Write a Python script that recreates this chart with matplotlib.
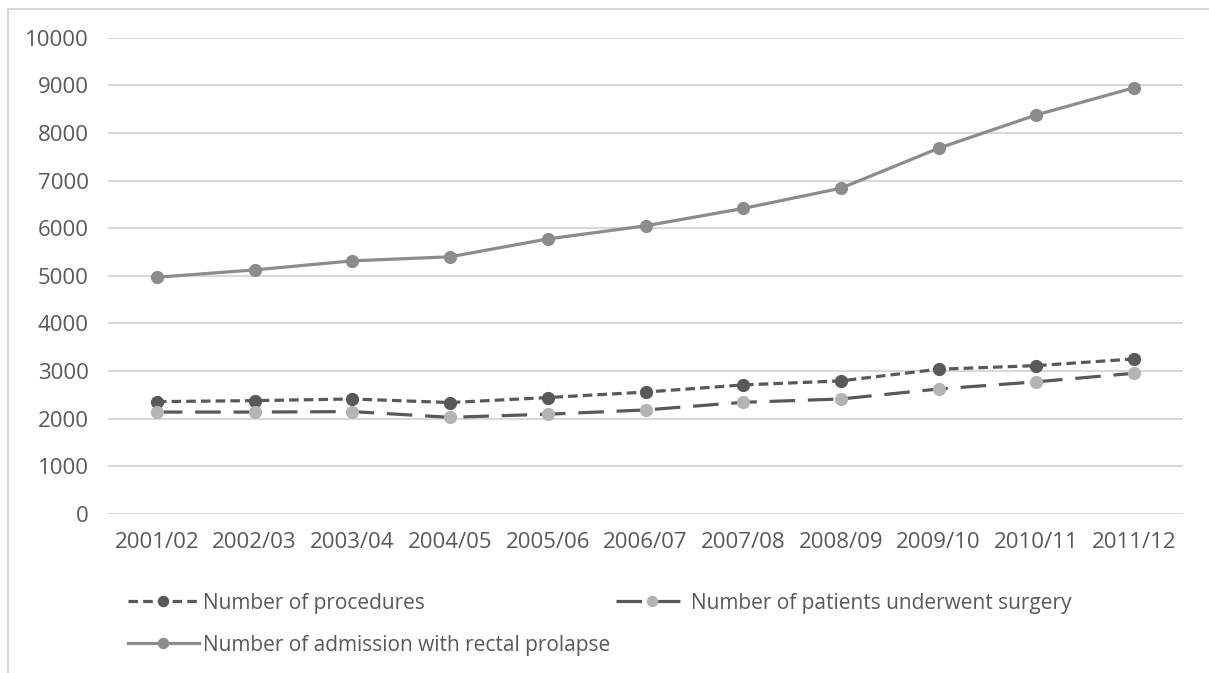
import matplotlib
matplotlib.use("Agg")
import matplotlib.pyplot as plt
from matplotlib.patches import Rectangle

years = ["2001/02", "2002/03", "2003/04", "2004/05", "2005/06", "2006/07",
         "2007/08", "2008/09", "2009/10", "2010/11", "2011/12"]
procedures = [2360, 2380, 2415, 2340, 2445, 2560, 2710, 2795, 3040, 3115, 3255]
patients = [2140, 2140, 2150, 2030, 2095, 2185, 2345, 2415, 2625, 2775, 2955]
admissions = [4970, 5125, 5315, 5400, 5775, 6050, 6415, 6840, 7680, 8380, 8950]
y_ticks = list(range(0, 10001, 1000))

plt.rcParams['font.family'] = ['Open Sans', 'DejaVu Sans']
text_col = "#595959"

fig = plt.figure(figsize=(12.09, 6.73), dpi=100)
ax = fig.add_axes([108 / 1209, 1 - 514 / 673, (1183 - 108) / 1209, (514 - 37.7) / 673])

x = range(len(years))
l_proc, = ax.plot(x, procedures, color="#595959", lw=2.3, dashes=(3, 1.6),
                  marker="o", ms=8.5, mfc="#595959", mec="#595959",
                  label="Number of procedures")
l_pat, = ax.plot(x, patients, color="#595959", lw=2.3, dashes=(8, 4),
                 marker="o", ms=8.5, mfc="#b4b4b4", mec="#b4b4b4",
                 label="Number of patients underwent surgery")
l_adm, = ax.plot(x, admissions, color="#8c8c8c", lw=2.3,
                 marker="o", ms=8.5, mfc="#8c8c8c", mec="#8c8c8c",
                 label="Number of admission with rectal prolapse")

ax.set_xlim(-0.5, len(years) - 0.5)
ax.set_ylim(0, 10000)
ax.set_yticks(y_ticks)
ax.set_xticks(list(x))
ax.set_xticklabels(years)
ax.grid(axis="y", color="#d9d9d9", lw=1.5)
ax.set_axisbelow(True)
for s in ax.spines.values():
    s.set_visible(False)
ax.tick_params(length=0, labelsize=16, labelcolor=text_col)
ax.tick_params(axis="y", pad=14)
ax.tick_params(axis="x", pad=13)

# rows: procedures | patients, then admissions below
leg = fig.legend([l_proc, l_adm, l_pat],
                 [l_proc.get_label(), l_adm.get_label(), l_pat.get_label()],
                 ncol=2, loc="upper left", bbox_to_anchor=(109 / 1209, 1 - 574 / 673),
                 frameon=False, fontsize=15, handlelength=3.4, handletextpad=0.2,
                 columnspacing=0.3, labelspacing=1.0, labelcolor=text_col,
                 markerscale=0.85)

fig.patches.append(Rectangle((8 / 1209, -0.1), 1.2, 1.1 - 9 / 673,
                             transform=fig.transFigure, fill=False,
                             edgecolor="#d9d9d9", lw=1.5))

fig.savefig("out.png", dpi=100)
